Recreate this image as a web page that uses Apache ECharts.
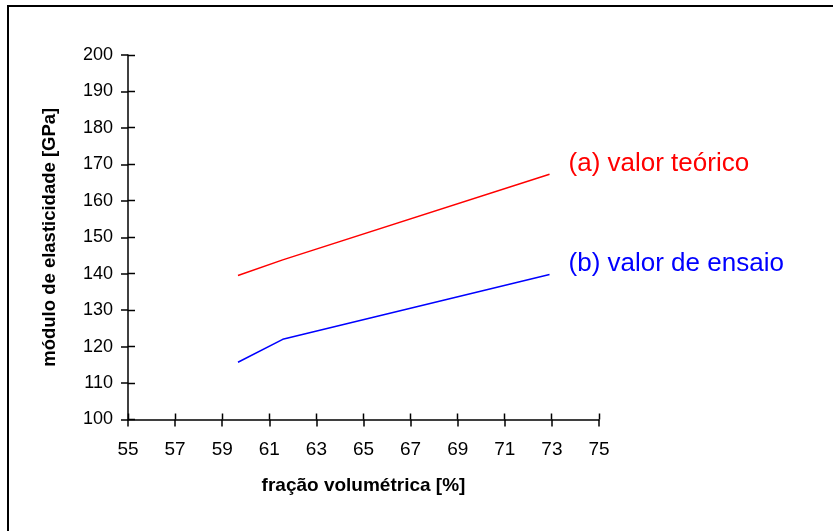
<!DOCTYPE html>
<html>
<head>
<meta charset="utf-8">
<script src="https://cdn.jsdelivr.net/npm/echarts@6/dist/echarts.min.js"></script>
<style>
html,body{margin:0;padding:0;background:#fff;}
#c{width:833px;height:531px;}
</style>
</head>
<body>
<div id="c"></div>
<script>
var fractions = [59.67, 61.57, 72.9];
var theoretical = [139.5, 143.8, 167.3];
var measured = [115.7, 122.0, 139.8];
var seriesNames = ['(a) valor teórico', '(b) valor de ensaio'];
var xTitle = 'fração volumétrica [%]';
var yTitle = 'módulo de elasticidade [GPa]';
var xMin = 55, xMax = 75, xStep = 2;
var yMin = 100, yMax = 200, yStep = 10;

function pairs(xs, ys){ return xs.map(function(x,i){ return [x, ys[i]]; }); }

var font = 'Liberation Sans, Arial, sans-serif';
var axisLine = {show:true, onZero:false, lineStyle:{color:'#000', width:1.5}};
var tickStyle = {color:'#000', width:1.5};
var border = [
  {type:'line', shape:{x1:7, y1:6, x2:833, y2:6}, style:{stroke:'#000', lineWidth:2}},
  {type:'line', shape:{x1:8, y1:5, x2:8, y2:531}, style:{stroke:'#000', lineWidth:2}}
];

var chart = echarts.init(document.getElementById('c'), null, {renderer:'canvas'});
chart.setOption({
  animation:false,
  backgroundColor:'#fff',
  grid:{left:128, right:234, top:55, bottom:111.5, containLabel:false},
  graphic:border,
  xAxis:{type:'value', min:xMin, max:xMax, interval:xStep, position:'bottom',
     axisLine:axisLine, axisTick:{show:true, inside:false, length:7, lineStyle:tickStyle},
     splitLine:{show:false},
     axisLabel:{color:'#000', fontSize:19, fontFamily:font, margin:21},
     name:xTitle, nameLocation:'middle', nameGap:57,
     nameTextStyle:{color:'#000', fontSize:19, fontWeight:'bold', fontFamily:font}},
  yAxis:{type:'value', min:yMin, max:yMax, interval:yStep, position:'left',
     axisLine:axisLine, axisTick:{show:true, inside:false, length:7, lineStyle:tickStyle},
     splitLine:{show:false},
     axisLabel:{color:'#000', fontSize:18, fontFamily:font, margin:15},
     name:yTitle, nameLocation:'middle', nameGap:69,
     nameTextStyle:{color:'#000', fontSize:18.5, fontWeight:'bold', fontFamily:font}},
  series:[
    {type:'line', name:seriesNames[0],
     data:pairs(fractions, theoretical), showSymbol:false, symbol:'none',
     lineStyle:{color:'#ff0000', width:1.5},
     endLabel:{show:true, formatter:seriesNames[0], color:'#ff0000', fontSize:26, fontFamily:font,
               distance:19, offset:[0,-10]}},
    {type:'line', name:seriesNames[1],
     data:pairs(fractions, measured), showSymbol:false, symbol:'none',
     lineStyle:{color:'#0000ff', width:1.5},
     endLabel:{show:true, formatter:seriesNames[1], color:'#0000ff', fontSize:26, fontFamily:font,
               distance:19, offset:[0,-11]}}
  ]
});

// inner halves of the crossing tick marks, placed through the axis scales
var inner = [];
function snap(v){ return Math.round(v) + 0.5; }
for (var xv = xMin; xv <= xMax + 1e-9; xv += xStep) {
  var p = chart.convertToPixel({xAxisIndex:0, yAxisIndex:0}, [xv, yMin]);
  var px = snap(p[0] - 0.5);
  inner.push({type:'line', silent:true, shape:{x1:px, y1:p[1], x2:px, y2:p[1] - 6},
              style:{stroke:'#000', lineWidth:1.5}});
}
for (var yv = yMin; yv <= yMax + 1e-9; yv += yStep) {
  var q = chart.convertToPixel({xAxisIndex:0, yAxisIndex:0}, [xMin, yv]);
  var py = snap(q[1] - 0.5);
  inner.push({type:'line', silent:true, shape:{x1:q[0], y1:py, x2:q[0] + 7, y2:py},
              style:{stroke:'#000', lineWidth:1.5}});
}
chart.setOption({graphic:border.concat(inner)});
</script>
</body>
</html>
